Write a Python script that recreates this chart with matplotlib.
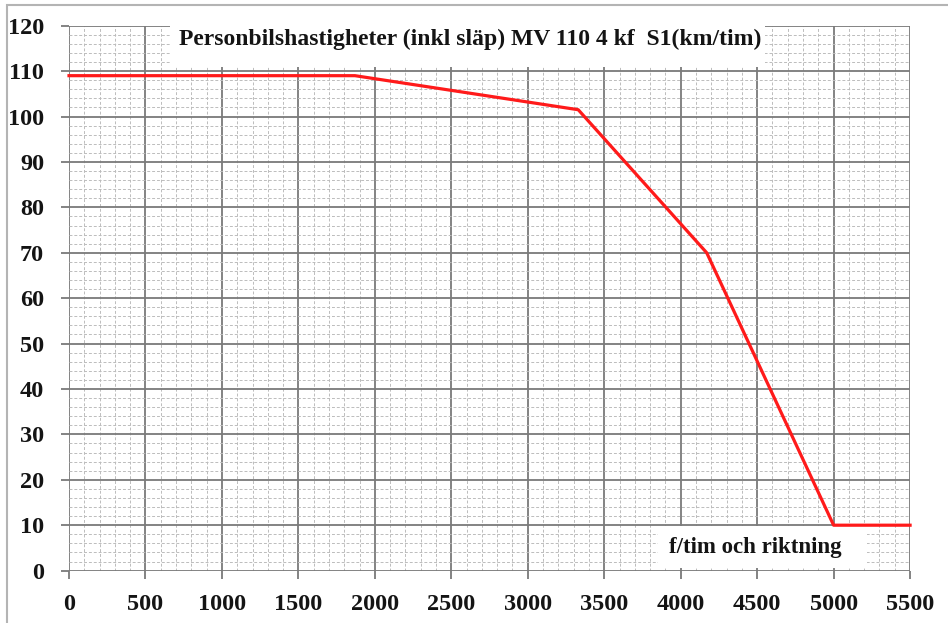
import matplotlib.pyplot as plt
import matplotlib.patches as patches
from matplotlib.ticker import MultipleLocator

# flow (f/tim och riktning) vs speed (km/tim)
flow = [0, 1870, 3330, 4170, 5000, 5500]
speed = [109, 109, 101.5, 70, 10, 10]

title = 'Personbilshastigheter (inkl släp) MV 110 4 kf  S1(km/tim)'
xlabel = 'f/tim och riktning'

plt.rcParams['font.family'] = ['Liberation Serif', 'DejaVu Serif']
plt.rcParams['font.weight'] = 'bold'

fig = plt.figure(figsize=(9.48, 6.23), dpi=100)
ax = fig.add_axes([0.0728, 0.0841, 0.8872, 0.8746])

# outer frame of the figure
fig.patches.append(patches.Rectangle((7 / 948, -0.05), 1.1, 1 - 5 / 623 + 0.05,
                                     transform=fig.transFigure, fill=False,
                                     edgecolor='#b4b4b4', lw=1.5))

ax.set_xlim(0, 5500)
ax.set_ylim(0, 120)
ax.xaxis.set_major_locator(MultipleLocator(500))
ax.xaxis.set_minor_locator(MultipleLocator(100))
ax.yaxis.set_major_locator(MultipleLocator(10))
ax.yaxis.set_minor_locator(MultipleLocator(2))

ax.set_axisbelow(True)
ax.grid(which='minor', color='#bcbcbc', lw=0.7, ls=(0, (3, 2)))
ax.grid(which='major', color='#7a7a7a', lw=1.3)
for s in ax.spines.values():
    s.set_visible(False)

ax.tick_params(which='major', length=6, width=1.3, color='#7a7a7a',
               labelsize=17.5, labelcolor='#141414')
ax.tick_params(axis='y', pad=12)
ax.tick_params(axis='x', pad=11)
ax.tick_params(which='minor', length=0)

# white boxes behind the two texts
ax.add_patch(patches.Rectangle((101 / 841, 1 - 41 / 545), 595 / 841, 42 / 545,
                               transform=ax.transAxes, facecolor='white',
                               edgecolor='none', zorder=3, clip_on=False))
ax.add_patch(patches.Rectangle((589 / 841, 0.004), 209 / 841, 42 / 545,
                               transform=ax.transAxes, facecolor='white',
                               edgecolor='none', zorder=3))

ax.plot(flow, speed, color='#ff1a1a', lw=2.3, zorder=5, clip_on=False)

ax.text(401 / 841, 1 - 14 / 545, title, transform=ax.transAxes,
        ha='center', va='center', fontsize=17, color='#141414', zorder=6)
ax.text(686 / 841, 23 / 545, xlabel, transform=ax.transAxes,
        ha='center', va='center', fontsize=16.5, color='#141414', zorder=6)

fig.savefig('out.png', dpi=100)
